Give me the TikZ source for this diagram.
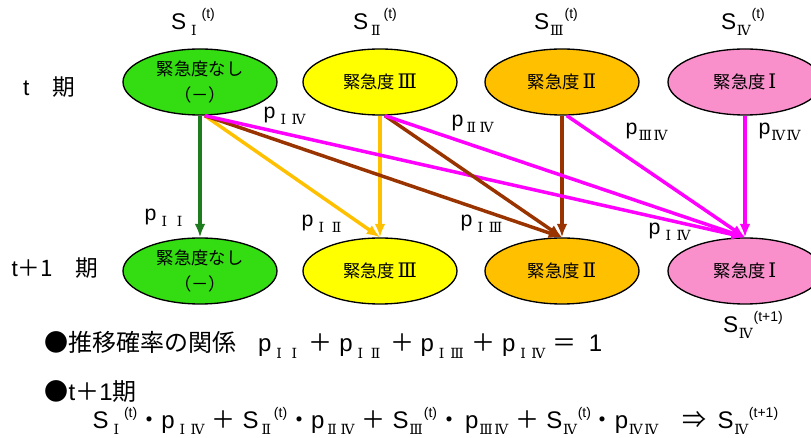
\documentclass[tikz,border=0pt]{standalone}
\usepackage{fontspec}
\setmainfont{Liberation Sans}
\newfontfamily\jp{Noto Sans CJK JP}
\newfontfamily\rn{DejaVu Serif}
\usepackage{tikz}
\usetikzlibrary{arrows.meta,positioning,shapes.geometric}
\definecolor{kmgreen}{HTML}{33DD11}
\definecolor{kmyellow}{HTML}{FFFF00}
\definecolor{kmorange}{HTML}{FFC000}
\definecolor{kmpink}{HTML}{F990CC}
\definecolor{kmdkgreen}{HTML}{1E7B1E}
\definecolor{kmbrown}{HTML}{993300}
\definecolor{kmmagenta}{HTML}{FF00FF}
% roman numeral in a full-width cell
\newcommand{\rnc}[1]{\makebox[11.5pt]{#1}}
\newcommand{\subrn}[1]{\raisebox{-0.5ex}{\rn\fontsize{10.5}{10.5}\selectfont #1}}
\newcommand{\supt}[1]{\raisebox{0.9ex}{\fontsize{10.5}{10.5}\selectfont(#1)}}
\newcommand{\pij}[2]{p\subrn{\rnc{#1}\rnc{#2}}}
\newcommand{\sk}[2]{S\subrn{\rnc{#1}}\supt{#2}}
\newcommand{\jb}{\jp\fontsize{18}{18}\selectfont}
\newcommand{\jplus}{\hspace{5pt}{\jb ＋}\hspace{5pt}}
\newcommand{\ebig}[1]{\hspace{2pt}{\rn\fontsize{15}{15}\selectfont #1}}

\begin{document}
\begin{tikzpicture}[x=0.75pt,y=-0.75pt,
  state/.style={ellipse,draw=black,line width=1pt,minimum width=115.5pt,minimum height=49.5pt,
    inner sep=0pt,align=center,font=\jp\fontsize{13}{19}\selectfont},
  trans/.style={-{Latex[length=10pt,width=8pt]},line width=2.6pt},
  plab/.style={font=\fontsize{16}{16}\selectfont},
  slab/.style={font=\fontsize{17}{17}\selectfont}]
  \clip (0,0) rectangle (811,438);
  % states at period t
  \node[state,fill=kmgreen] (t1) at (200,82) {緊急度なし\\（－）};
  \node[state,fill=kmyellow] (t2) at (380,82) {緊急度\ebig{Ⅲ}};
  \node[state,fill=kmorange] (t3) at (562,82) {緊急度\ebig{Ⅱ}};
  \node[state,fill=kmpink] (t4) at (745,82) {緊急度\ebig{Ⅰ}};
  % states at period t+1
  \node[state,fill=kmgreen] (b1) at (200,271) {緊急度なし\\（－）};
  \node[state,fill=kmyellow] (b2) at (380,271) {緊急度\ebig{Ⅲ}};
  \node[state,fill=kmorange] (b3) at (562,271) {緊急度\ebig{Ⅱ}};
  \node[state,fill=kmpink] (b4) at (745,271) {緊急度\ebig{Ⅰ}};
  % state sizes
  \node[slab] (s1) at (193,22) {\sk{Ⅰ}{t}};
  \node[slab] (s2) at (375,22) {\sk{Ⅱ}{t}};
  \node[slab] (s3) at (556,22) {\sk{Ⅲ}{t}};
  \node[slab] (s4) at (743,22) {\sk{Ⅳ}{t}};
  \node[slab] (s4n) at (753,325) {\sk{Ⅳ}{t+1}};
  % periods
  \node[font=\fontsize{17}{17}\selectfont] (pt) at (49,87) {t\jp　期};
  \node[font=\fontsize{17}{17}\selectfont] (pt1) at (55,268) {t\jp＋1　期};
  % transitions
  \foreach \i/\c in {1/kmdkgreen,2/kmorange,3/kmbrown,4/kmmagenta}
    \draw[trans,\c] (t\i.south) -- (b\i.north);
  \foreach \a/\b/\c in {t1/b2/kmorange,t1/b3/kmbrown,t1/b4/kmmagenta,t2/b3/kmbrown,t2/b4/kmmagenta,t3/b4/kmmagenta}
    \draw[trans,\c] (\a.-82) -- (\b.north);
  % transition probabilities
  \node[plab] (p14a) at (285,116) {\pij{Ⅰ}{Ⅳ}};
  \node[plab] (p24) at (473,124) {\pij{Ⅱ}{Ⅳ}};
  \node[plab] (p34) at (647,132) {\pij{Ⅲ}{Ⅳ}};
  \node[plab] (p44) at (780,132) {\pij{Ⅳ}{Ⅳ}};
  \node[plab] (p11) at (166,218) {\pij{Ⅰ}{Ⅰ}};
  \node[plab] (p12) at (323,224) {\pij{Ⅰ}{Ⅱ}};
  \node[plab] (p13) at (482,224) {\pij{Ⅰ}{Ⅲ}};
  \node[plab] (p14b) at (670,232) {\pij{Ⅰ}{Ⅳ}};
  % relations
  \node[anchor=west,font=\fontsize{18}{18}\selectfont] (rel) at (40,345)
    {{\jb ●推移確率の関係}\hspace{16pt}\pij{Ⅰ}{Ⅰ}\jplus\pij{Ⅰ}{Ⅱ}\jplus\pij{Ⅰ}{Ⅲ}\jplus\pij{Ⅰ}{Ⅳ}\hspace{5pt}{\jb ＝}\hspace{9pt}1};
  \node[anchor=west] (per) at (40,392) {\jb ●\normalfont\fontsize{18}{18}\selectfont t\jb＋\normalfont\fontsize{18}{18}\selectfont 1\jb 期};
  \node[anchor=west,font=\fontsize{18}{18}\selectfont] (sum) at (88,421)
    {\sk{Ⅰ}{t}{\jp・}\pij{Ⅰ}{Ⅳ}\jplus\sk{Ⅱ}{t}{\jp・}\pij{Ⅱ}{Ⅳ}\jplus\sk{Ⅲ}{t}{\jp・}\hspace{3pt}\pij{Ⅲ}{Ⅳ}\jplus\sk{Ⅳ}{t}{\jp・}\pij{Ⅳ}{Ⅳ}\hspace{18pt}{\jp ⇒}\hspace{8pt}\sk{Ⅳ}{t+1}};
\end{tikzpicture}
\end{document}
